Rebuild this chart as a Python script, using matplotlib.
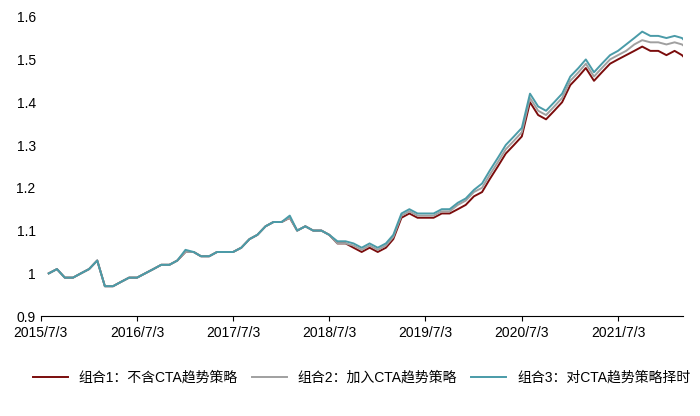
import matplotlib
matplotlib.use("Agg")
import matplotlib.pyplot as plt
import pandas as pd

plt.rcParams['font.family'] = ['Liberation Sans', 'Noto Sans CJK SC', 'DejaVu Sans']

dates = pd.date_range("2015-07-03", periods=81, freq="MS") + pd.Timedelta(days=2)
s1 = [1.00,1.01,0.99,0.99,1.00,1.01,1.03,0.97,0.97,0.98,0.99,0.99,
      1.00,1.01,1.02,1.02,1.03,1.05,1.05,1.04,1.04,1.05,1.05,1.05,
      1.06,1.08,1.09,1.11,1.12,1.12,1.13,1.10,1.11,1.10,1.10,1.09,
      1.07,1.07,1.06,1.05,1.06,1.05,1.06,1.08,1.13,1.14,1.13,1.13,
      1.13,1.14,1.14,1.15,1.16,1.18,1.19,1.22,1.25,1.28,1.30,1.32,
      1.40,1.37,1.36,1.38,1.40,1.44,1.46,1.48,1.45,1.47,1.49,1.50,
      1.51,1.52,1.53,1.52,1.52,1.51,1.52,1.51,1.49]
s2 = [1.00,1.01,0.99,0.99,1.00,1.01,1.03,0.97,0.97,0.98,0.99,0.99,
      1.00,1.01,1.02,1.02,1.03,1.05,1.05,1.04,1.04,1.05,1.05,1.05,
      1.06,1.08,1.09,1.11,1.12,1.12,1.13,1.10,1.11,1.10,1.10,1.09,
      1.07,1.07,1.065,1.055,1.065,1.055,1.065,1.085,1.135,1.145,1.135,1.135,
      1.135,1.145,1.145,1.16,1.17,1.19,1.20,1.23,1.26,1.29,1.31,1.33,
      1.41,1.38,1.37,1.39,1.41,1.45,1.47,1.49,1.46,1.48,1.50,1.51,
      1.52,1.535,1.545,1.54,1.54,1.535,1.54,1.535,1.52]
s3 = [1.00,1.01,0.99,0.99,1.00,1.01,1.03,0.97,0.97,0.98,0.99,0.99,
      1.00,1.01,1.02,1.02,1.03,1.055,1.05,1.04,1.04,1.05,1.05,1.05,
      1.06,1.08,1.09,1.11,1.12,1.12,1.135,1.10,1.11,1.10,1.10,1.09,
      1.075,1.075,1.07,1.06,1.07,1.06,1.07,1.09,1.14,1.15,1.14,1.14,
      1.14,1.15,1.15,1.165,1.175,1.195,1.21,1.24,1.27,1.30,1.32,1.34,
      1.42,1.39,1.38,1.40,1.42,1.46,1.48,1.50,1.47,1.49,1.51,1.52,
      1.535,1.55,1.565,1.555,1.555,1.55,1.555,1.55,1.53]
labels = ["组合1：不含CTA趋势策略", "组合2：加入CTA趋势策略", "组合3：对CTA趋势策略择时"]
colors = ["#7B0C0C", "#A0A0A0", "#4A9BA8"]

fig, ax = plt.subplots(figsize=(7, 4.16), dpi=100)
fig.subplots_adjust(left=0.058, right=0.975, top=0.96, bottom=0.24)
for s, l, c in zip([s1, s2, s3], labels, colors):
    ax.plot(dates, s, color=c, lw=1.4, label=l)
ax.set_ylim(0.9, 1.6)
ax.set_yticks([0.9,1.0,1.1,1.2,1.3,1.4,1.5,1.6])
ax.set_yticklabels(["0.9","1","1.1","1.2","1.3","1.4","1.5","1.6"])
ax.set_xlim(pd.Timestamp("2015-07-03"), pd.Timestamp("2022-03-05"))
ticks = [pd.Timestamp(f"{y}-07-03") for y in range(2015, 2022)]
ax.set_xticks(ticks)
ax.set_xticklabels([f"{t.year}/7/3" for t in ticks])
for sp in ["top", "right", "left"]:
    ax.spines[sp].set_visible(False)
ax.tick_params(axis='y', length=0, labelsize=10)
ax.tick_params(axis='x', labelsize=10, direction='out')
ax.legend(loc='upper center', bbox_to_anchor=(0.5, -0.14), ncol=3, frameon=False,
          fontsize=10, handlelength=2.5, columnspacing=1.0)
fig.savefig("out.png")
